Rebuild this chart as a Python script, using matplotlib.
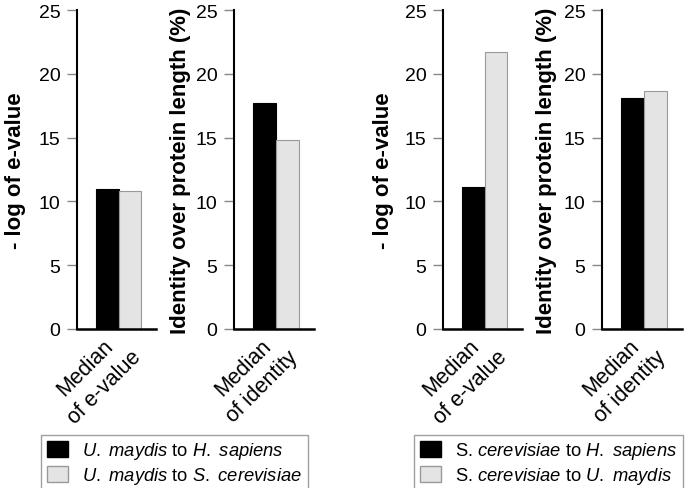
import matplotlib.pyplot as plt
from matplotlib.patches import Patch

plt.rcParams['font.family'] = ['Liberation Sans', 'DejaVu Sans']
plt.rcParams['mathtext.fontset'] = 'custom'
plt.rcParams['mathtext.rm'] = 'Liberation Sans'
plt.rcParams['mathtext.it'] = 'Liberation Sans:italic'

# data
groups = ["Median\nof e-value", "Median\nof identity", "Median\nof e-value", "Median\nof identity"]
ylabels = ["- log of e-value", "Identity over protein length (%)",
           "- log of e-value", "Identity over protein length (%)"]
first_vals = [11.0, 17.7, 11.1, 18.1]    # to H. sapiens
second_vals = [10.85, 14.8, 21.7, 18.65]  # to S. cerevisiae / to U. maydis
yticks = [0, 5, 10, 15, 20, 25]

legend_left = [r"$\it{U.\ maydis}$ to $\it{H.\ sapiens}$",
               r"$\it{U.\ maydis}$ to $\it{S.\ cerevisiae}$"]
legend_right = [r"S. $\it{cerevisiae}$ to $\it{H.\ sapiens}$",
                r"S. $\it{cerevisiae}$ to $\it{U.\ maydis}$"]

BLACK = "#000000"
LIGHT = "#e4e4e4"
LIGHT_EDGE = "#999999"

fig = plt.figure(figsize=(6.85, 4.89), dpi=100)

lefts = [77, 234, 443, 602]
widths = [79, 80, 79, 80]
pads = [9, 3.5, 7.5, 4.5]
bottom = 1 - 330 / 489
height = (330 - 11) / 489

for i in range(4):
    ax = fig.add_axes([lefts[i] / 685, bottom, widths[i] / 685, height])
    ax.bar(0, first_vals[i], width=1.0, color=BLACK, edgecolor=BLACK, linewidth=0.8)
    ax.bar(1, second_vals[i], width=1.0, color=LIGHT, edgecolor=LIGHT_EDGE, linewidth=0.8)
    ax.set_xlim(-1.35, 2.15)
    ax.set_ylim(0, 25)
    ax.set_yticks(yticks)
    ax.set_xticks([])
    # group label, rotated block centred below the axis
    ax.text(-0.55, -0.15, groups[i], transform=ax.get_xaxis_transform(),
            rotation=45, ha='center', va='center', rotation_mode='anchor',
            multialignment='center', fontsize=15.5, linespacing=1.35)
    ax.tick_params(axis='y', length=7, width=1, color='#888888', labelsize=14, pad=5)
    ax.spines['top'].set_visible(False)
    ax.spines['right'].set_visible(False)
    ax.spines['left'].set_linewidth(1.5)
    ax.spines['bottom'].set_linewidth(1.8)
    ax.set_ylabel(ylabels[i], fontsize=16, fontweight='bold', labelpad=pads[i])

handles = [Patch(facecolor=BLACK, edgecolor=BLACK),
           Patch(facecolor=LIGHT, edgecolor=LIGHT_EDGE)]

for labels, x0 in [(legend_left, 41), (legend_right, 414)]:
    leg = fig.legend(handles, labels, loc='upper left',
                     bbox_to_anchor=(x0 / 685, 1 - 436 / 489),
                     fontsize=13.2, frameon=True, fancybox=False,
                     handlelength=1.15, handleheight=0.95, handletextpad=0.8,
                     borderaxespad=0, borderpad=0.3, labelspacing=0.2)
    leg.get_frame().set_edgecolor('#888888')
    leg.get_frame().set_linewidth(1.0)

fig.savefig("out.png", dpi=100)
